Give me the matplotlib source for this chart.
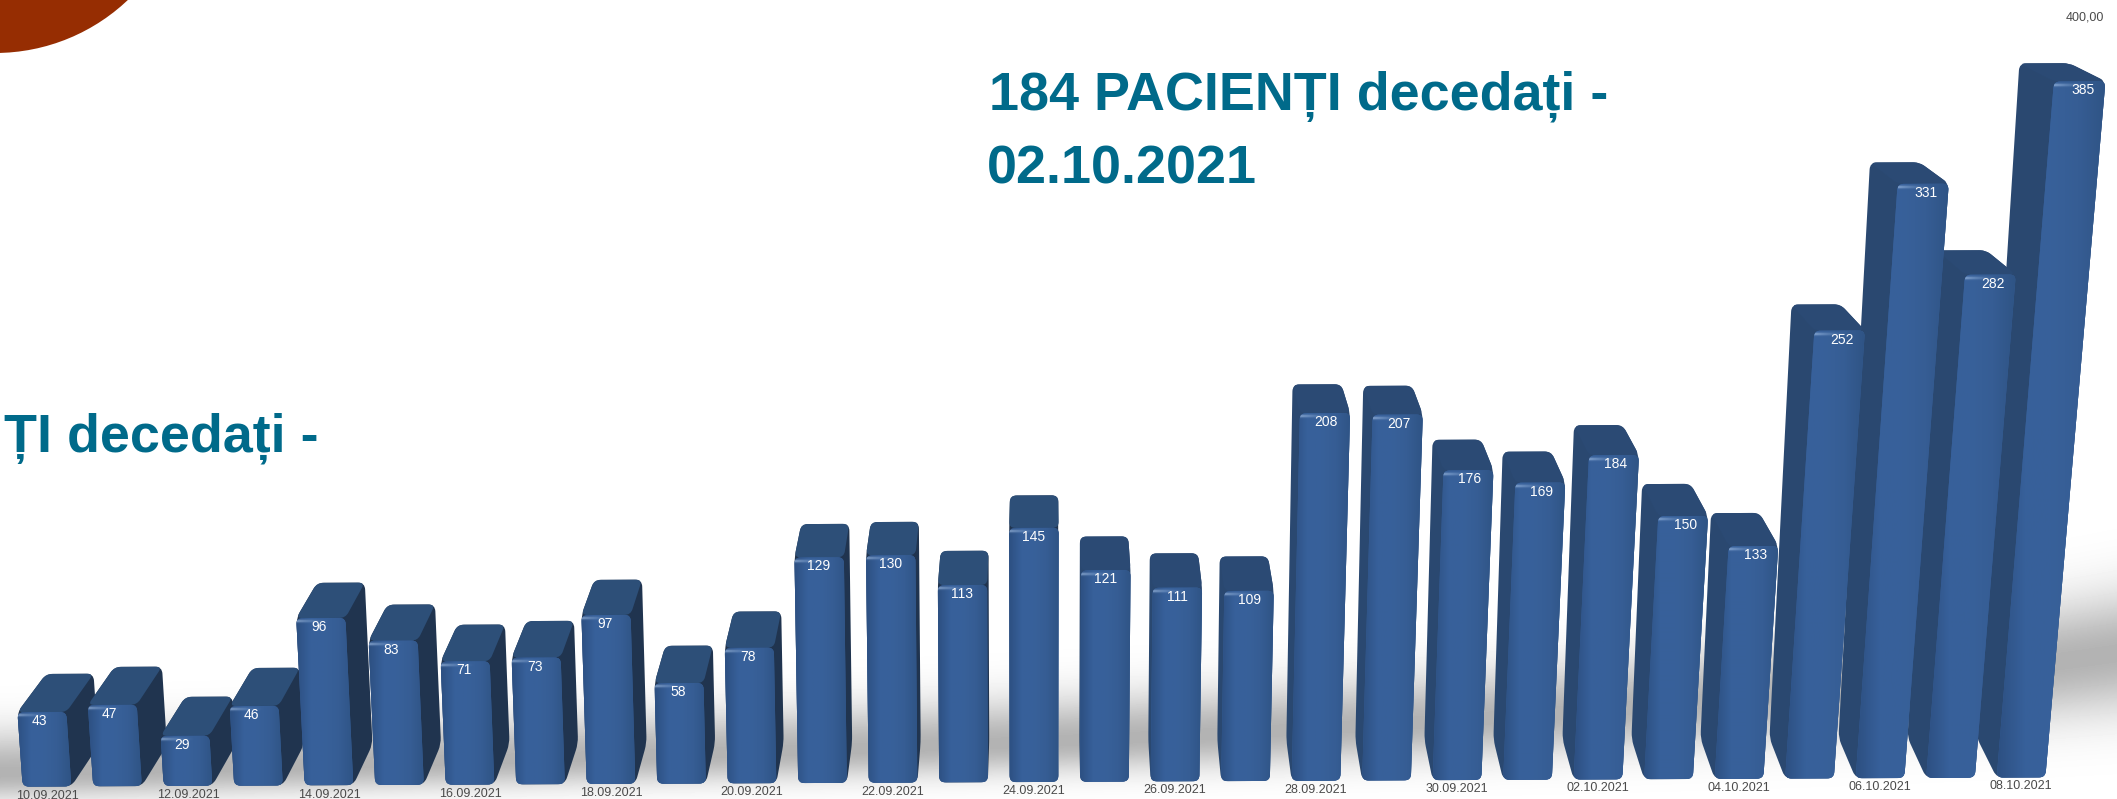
import numpy as np
import matplotlib
matplotlib.use('Agg')
import matplotlib.pyplot as plt
from matplotlib.colors import LinearSegmentedColormap, to_rgb
from matplotlib.patches import Circle, PathPatch
from matplotlib.path import Path

plt.rcParams['font.family'] = ['Liberation Sans', 'DejaVu Sans']

# daily values, 10.09.2021 - 08.10.2021
values = [43, 47, 29, 46, 96, 83, 71, 73, 97, 58, 78, 129, 130, 113, 145,
          121, 111, 109, 208, 207, 176, 169, 184, 150, 133, 252, 331, 282, 385]
dates = ['10.09.2021', '12.09.2021', '14.09.2021', '16.09.2021', '18.09.2021',
         '20.09.2021', '22.09.2021', '24.09.2021', '26.09.2021', '28.09.2021',
         '30.09.2021', '02.10.2021', '04.10.2021', '06.10.2021', '08.10.2021']
axis_top_label = '400,00'
title_right = ['184 PACIENȚI decedați -', '02.10.2021']
title_left = 'ȚI decedați -'

W, H = 2117, 799
PX_X = 70.5   # pixels per category
PX_Y = 1.81   # pixels per value unit

# fake perspective of the 3D bars
XC = 14.05
S0, S1 = 0.95, 1.27e-4
TILT = 0.178
YH = 700
DY = 0.032
BAR_W = 0.69

TEAL = '#006a8a'
GREY = '#4a4a4a'


def project(i, u, v, back=False):
    x0 = i + u
    lean = 1.2e-4 if x0 < XC else 1.55e-4
    x = XC + (x0 - XC) * (1 + lean * v)
    y = v * (S0 + S1 * v) + TILT * (x0 - 14)
    if back:
        dx = 0.028 if x0 < XC else 0.021 + 0.013 * v / 385
        x, y = x + dx * (XC - x), y + DY * (YH - y)
    return x, y


def rounded(points, r_px):
    # closed path with rounded corners, radius given in pixels
    pts = np.array(points) * [PX_X, PX_Y]
    n = len(pts)
    verts, codes = [], []
    for k in range(n):
        p, a, b = pts[k], pts[k - 1], pts[(k + 1) % n]
        la, lb = np.linalg.norm(a - p), np.linalg.norm(b - p)
        r = min(r_px, la * 0.45, lb * 0.45)
        s = p + (a - p) / max(la, 1e-6) * r
        e = p + (b - p) / max(lb, 1e-6) * r
        verts += [s, p, e]
        codes += [Path.MOVETO if k == 0 else Path.LINETO, Path.CURVE3, Path.CURVE3]
    verts.append(verts[0])
    codes.append(Path.CLOSEPOLY)
    return Path(np.array(verts) / [PX_X, PX_Y], codes)


fig = plt.figure(figsize=(W / 100, H / 100), dpi=100, facecolor='white')

# background layer in pixels: floor shadow, circle, titles
bg = fig.add_axes([0, 0, 1, 1], zorder=0)
bg.set_xlim(0, W)
bg.set_ylim(H, 0)
bg.axis('off')

xx, yy = np.meshgrid(np.arange(W), np.arange(H))
centre = 773 - 0.026 * xx - 63 * (xx / 2100) ** 4
sig_up = 42 + 18 * (xx / W) ** 3
sig_dn = 26 + 32 * (xx / W) ** 3
sig = np.where(yy < centre, sig_up, sig_dn)
dark = 0.30 * np.exp(-((yy - centre) / sig) ** 2)
bg.imshow(1 - dark, cmap='gray', vmin=0, vmax=1, extent=[0, W, H, 0], aspect='auto')
bg.set_xlim(0, W)
bg.set_ylim(H, 0)

bg.add_patch(Circle((-5, -140), 193, fc='#962d02', ec='none'))
bg.text(989, 110, title_right[0], color=TEAL, fontsize=38.8, fontweight='bold', va='baseline')
bg.text(987, 183, title_right[1], color=TEAL, fontsize=38.8, fontweight='bold', va='baseline')
bg.text(318, 451, title_left, color=TEAL, fontsize=38.8, fontweight='bold', va='baseline', ha='right')
bg.text(2104, 17, axis_top_label, color=GREY, fontsize=9, ha='right', va='center')

# chart layer: x = day index, y = value
ax = fig.add_axes([0, 0, 1, 1], zorder=1)
ax.patch.set_alpha(0)
ax.axis('off')
xlim = (-47 / PX_X, (W - 47) / PX_X)
ylim = (-(H - 782) / PX_Y, 782 / PX_Y)

front_cmap = LinearSegmentedColormap.from_list(
    'front', ['#2d5082', '#37609a', '#38619a', '#365d94', '#2f5485'])
zo = 2
# painter's order: the outer bars first, the middle one last
for i in sorted(range(len(values)), key=lambda k: -abs(k - XC)):
    v = values[i]
    h = BAR_W / 2
    left = i < XC
    fbl, fbr = project(i, -h, 0), project(i, h, 0)
    ftl, ftr = project(i, -h, v), project(i, h, v)
    bbl, bbr = project(i, -h, 0, True), project(i, h, 0, True)
    btl, btr = project(i, -h, v, True), project(i, h, v, True)

    if left:
        hull = [fbl, fbr, bbr, btr, btl, ftl]
        side_col = '#20344f'
        top_col = '#2d4f78'
    else:
        hull = [fbr, ftr, btr, btl, bbl, fbl]
        side_col = '#2a4870'
        top_col = '#2b4a74'
    ax.add_patch(PathPatch(rounded(hull, 7), fc=side_col, ec='none', zorder=zo))
    ax.add_patch(PathPatch(rounded([ftl, ftr, btr, btl], 6), fc=top_col, ec='none', zorder=zo + 1))

    fpath = rounded([fbl, fbr, ftr, ftl], 6)
    fpatch = PathPatch(fpath, fc='#37609a', ec='none', zorder=zo + 2)
    ax.add_patch(fpatch)
    x_min, x_max = min(fbl[0], ftl[0]), max(fbr[0], ftr[0])
    y_min, y_max = min(fbl[1], fbr[1]), max(ftl[1], ftr[1])
    im = ax.imshow(np.linspace(0, 1, 64)[None, :], cmap=front_cmap, aspect='auto',
                   extent=[x_min, x_max, y_min, y_max], zorder=zo + 3, interpolation='bilinear')
    im.set_clip_path(fpatch)

    # light streak on the top edge of the front face
    gx = np.linspace(0, 1, 60)
    gy = np.linspace(-1, 1, 12)
    streak = np.zeros((12, 60, 4))
    streak[..., :3] = to_rgb('#a9c6ea')
    streak[..., 3] = 0.7 * np.exp(-(gy[:, None] / 0.5) ** 2) * (1 - gx[None, :]) ** 1.5
    im2 = ax.imshow(streak, aspect='auto', zorder=zo + 4, interpolation='bilinear',
                    extent=[ftl[0], ftl[0] + 0.5, ftl[1] - 3.4, ftl[1] - 0.4])
    im2.set_clip_path(fpatch)
    zo += 5

ax.set_xlim(*xlim)
ax.set_ylim(*ylim)

for i, v in enumerate(values):
    xa, ya = project(i, -BAR_W / 2, v)
    xb, yb = project(i, BAR_W / 2, v)
    ax.text((xa + xb) / 2 + 0.003 * (i - XC), (ya + yb) / 2 - 5, str(v), color='white', fontsize=10,
            ha='center', va='center', zorder=zo + 5)

for k, d in enumerate(dates):
    i = 2 * k
    ax.text(i, -5 + TILT * (i - 14) * 1.1, d, color=GREY, fontsize=9,
            ha='center', va='center', zorder=zo + 5)

fig.savefig('out.png', dpi=100)
